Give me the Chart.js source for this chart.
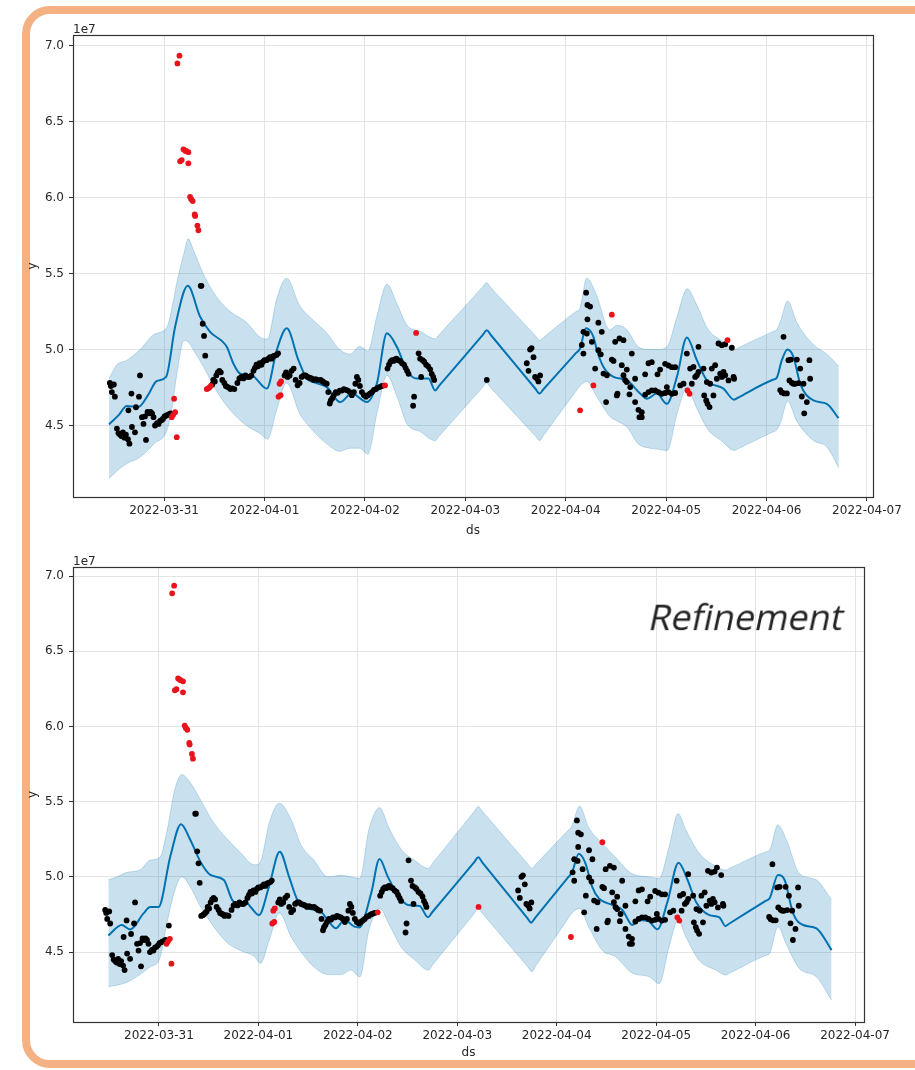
<!DOCTYPE html>
<html><head><meta charset="utf-8">
<script src="https://cdn.jsdelivr.net/npm/chart.js@4.4.1/dist/chart.umd.min.js"></script>
<style>
html,body{margin:0;padding:0;background:#fff;width:915px;height:1070px;overflow:hidden;position:relative}
#frame{position:absolute;left:22px;top:6px;width:960px;height:1062px;box-sizing:border-box;border:8px solid #F4B183;border-radius:28px}
canvas{position:absolute;left:0}
#c1{top:0}
#c2{top:545px}
#note{position:absolute;left:647px;top:599px;font:normal 36px/36px 'Open Sans';color:#222;white-space:nowrap;transform:skewX(-12deg);transform-origin:0 32px}
</style></head><body>
<div id="frame"></div>
<canvas id="c1" width="915" height="545"></canvas>
<canvas id="c2" width="915" height="525"></canvas>
<div id="note">Refinement</div>
<script>
// x values are days after 2022-03-31 00:00, y values in units of 1e7
const tickDays = [0,1,2,3,4,5,6,7];
const tickDates = ['2022-03-31','2022-04-01','2022-04-02','2022-04-03','2022-04-04','2022-04-05','2022-04-06','2022-04-07'];
const yTicks = [4.5,5.0,5.5,6.0,6.5,7.0];
const offsetLabel = '1e7';

// ---- top chart forecast ----
const topBandDays = [-0.548,-0.47,-0.37,-0.24,-0.1,0.03,0.08,0.13,0.2,0.24,0.29,0.39,0.52,0.66,0.82,0.96,1.03,1.12,1.22,1.35,1.49,1.62,1.75,1.85,1.95,2.03,2.12,2.22,2.32,2.42,2.55,2.7,2.74,3.17,3.21,3.25,3.70,3.74,3.78,4.10,4.14,4.21,4.3,4.44,4.51,4.61,4.72,4.84,4.91,5.01,5.11,5.21,5.3,5.42,5.55,5.68,5.72,6.06,6.1,6.14,6.21,6.3,6.47,6.6,6.72];
const topUpper = [4.81,4.90,4.93,5.00,5.10,5.15,5.28,5.45,5.64,5.73,5.66,5.50,5.35,5.25,5.18,5.08,5.07,5.33,5.47,5.29,5.19,5.11,5.00,4.97,5.02,4.99,5.22,5.43,5.30,5.16,5.12,5.07,5.099,5.411,5.44,5.411,5.089,5.06,5.081,5.249,5.27,5.47,5.37,5.13,5.16,5.13,5.02,5.00,5.00,5.02,5.22,5.40,5.30,5.13,5.06,5.00,5.012,5.118,5.13,5.19,5.32,5.18,5.03,4.97,4.89];
const topLower = [4.15,4.20,4.25,4.29,4.38,4.47,4.62,4.85,5.06,5.05,5.00,4.89,4.73,4.60,4.50,4.445,4.41,4.60,4.78,4.58,4.46,4.38,4.33,4.35,4.35,4.31,4.58,4.83,4.69,4.51,4.46,4.40,4.430,4.750,4.78,4.751,4.429,4.40,4.436,4.724,4.76,4.79,4.70,4.56,4.53,4.49,4.38,4.35,4.345,4.335,4.58,4.75,4.62,4.47,4.40,4.335,4.348,4.457,4.47,4.52,4.66,4.53,4.40,4.36,4.22];
const topFitDays = [-0.548,-0.45,-0.372,-0.256,-0.16,-0.073,0.02,0.11,0.236,0.359,0.458,0.624,0.69,0.757,0.873,1.023,1.122,1.222,1.338,1.421,1.487,1.62,1.753,1.869,2.019,2.119,2.219,2.318,2.417,2.517,2.633,2.7,2.74,3.174,3.214,3.254,3.698,3.738,3.778,4.103,4.143,4.2,4.276,4.31,4.376,4.476,4.608,4.741,4.808,4.907,5.007,5.107,5.206,5.306,5.405,5.571,5.677,5.717,6.062,6.102,6.152,6.208,6.268,6.335,6.467,6.6,6.716];
const topFit = [4.507,4.57,4.628,4.621,4.70,4.793,4.82,5.15,5.42,5.216,5.117,5.018,4.908,4.842,4.83,4.743,4.996,5.14,4.93,4.809,4.786,4.753,4.654,4.71,4.654,4.776,5.107,5.018,4.864,4.809,4.809,4.731,4.762,5.097,5.128,5.096,4.742,4.71,4.739,4.978,5.007,5.14,5.084,4.996,4.886,4.82,4.798,4.71,4.676,4.71,4.643,4.82,5.08,4.93,4.798,4.743,4.67,4.684,4.801,4.815,4.93,5.0,4.952,4.776,4.665,4.643,4.548];

// ---- bottom chart forecast (refinement) ----
const botBandDays = [-0.509,-0.42,-0.32,-0.19,-0.09,0.01,0.08,0.16,0.23,0.3,0.42,0.55,0.69,0.82,0.96,1.02,1.11,1.21,1.33,1.43,1.56,1.7,1.83,1.93,2.02,2.11,2.22,2.31,2.44,2.57,2.71,2.75,3.17,3.21,3.25,3.71,3.75,3.79,4.11,4.15,4.23,4.32,4.46,4.59,4.76,4.93,5.03,5.13,5.22,5.3,5.43,5.6,5.7,5.74,6.10,6.14,6.225,6.31,6.44,6.61,6.764];
const botUpper = [4.98,5.00,5.03,5.045,5.11,5.13,5.30,5.58,5.68,5.64,5.51,5.36,5.25,5.16,5.08,5.10,5.36,5.49,5.38,5.21,5.11,5.00,5.01,5.00,4.99,5.31,5.46,5.33,5.18,5.11,5.056,5.089,5.434,5.467,5.437,5.086,5.056,5.084,5.306,5.334,5.47,5.33,5.22,5.13,5.02,5.00,4.99,5.20,5.42,5.31,5.16,5.07,5.045,5.057,5.166,5.178,5.345,5.245,5.023,4.98,4.846];
const botLower = [4.27,4.28,4.30,4.35,4.40,4.46,4.69,4.91,5.00,4.95,4.80,4.67,4.56,4.51,4.47,4.425,4.58,4.76,4.60,4.50,4.40,4.35,4.35,4.38,4.335,4.64,4.79,4.69,4.53,4.45,4.38,4.413,4.757,4.79,4.759,4.401,4.37,4.409,4.718,4.757,4.79,4.67,4.51,4.47,4.36,4.336,4.29,4.535,4.71,4.60,4.447,4.38,4.347,4.36,4.477,4.49,4.669,4.55,4.39,4.336,4.18];
const botFitDays = [-0.509,-0.374,-0.29,-0.155,-0.088,-0.004,0.114,0.222,0.316,0.417,0.518,0.653,0.737,0.788,0.872,0.922,1.006,1.107,1.215,1.309,1.393,1.495,1.629,1.697,1.78,1.865,1.966,2.016,2.134,2.218,2.302,2.403,2.504,2.622,2.706,2.746,3.171,3.211,3.251,3.703,3.743,3.783,4.114,4.154,4.222,4.289,4.356,4.424,4.559,4.66,4.761,4.828,4.929,5.013,5.114,5.225,5.316,5.4,5.535,5.636,5.697,5.737,6.101,6.141,6.225,6.292,6.377,6.478,6.612,6.764];
const botFit = [4.61,4.68,4.65,4.757,4.8,4.8,5.134,5.35,5.245,5.101,5.013,4.979,4.846,4.824,4.835,4.80,4.746,4.935,5.167,5.0,4.846,4.79,4.768,4.713,4.658,4.713,4.669,4.664,4.89,5.118,5.0,4.879,4.813,4.806,4.731,4.763,5.098,5.13,5.097,4.728,4.695,4.728,4.997,5.029,5.153,5.09,4.935,4.857,4.813,4.78,4.68,4.713,4.702,4.651,4.835,5.094,4.979,4.835,4.746,4.731,4.673,4.690,4.84,4.857,5.013,4.979,4.757,4.68,4.658,4.513];

// ---- observations [day, value] ----
const obsCommon = [
[-0.54,4.78],[-0.53,4.76],[-0.52,4.72],[-0.50,4.77],[-0.49,4.69],[-0.47,4.48],[-0.455,4.45],[-0.44,4.44],[-0.425,4.43],[-0.41,4.455],[-0.395,4.42],[-0.38,4.44],[-0.36,4.41],[-0.345,4.38],[-0.355,4.60],[-0.325,4.71],[-0.32,4.49],[-0.29,4.455],[-0.28,4.62],[-0.25,4.69],[-0.24,4.83],[-0.22,4.555],[-0.205,4.51],[-0.19,4.56],[-0.18,4.405],[-0.165,4.59],[-0.15,4.58],[-0.135,4.59],[-0.12,4.58],[-0.105,4.555],[-0.09,4.50],[-0.07,4.515],[-0.055,4.51],[-0.04,4.53],[-0.025,4.535],[-0.01,4.545],[0.005,4.56],[0.02,4.565],[0.035,4.57],[0.05,4.575],[0.065,4.58],
[0.365,5.42],[0.372,5.42],[0.385,5.17],[0.398,5.09],[0.41,4.96],
[0.48,4.77],[0.49,4.80],[0.505,4.79],[0.52,4.83],[0.535,4.85],[0.55,4.86],[0.565,4.85],[0.58,4.80],[0.60,4.78],[0.615,4.76],[0.63,4.755],[0.645,4.75],[0.66,4.74],[0.68,4.745],[0.70,4.74],[0.73,4.78],[0.75,4.81],[0.77,4.82],[0.79,4.81],[0.81,4.83],[0.83,4.82],[0.85,4.82],[0.87,4.83],[0.89,4.86],[0.905,4.88],[0.92,4.90],[0.935,4.89],[0.95,4.91],[0.97,4.90],[0.985,4.92],[1.0,4.93],[1.02,4.93],[1.04,4.94],[1.055,4.95],[1.07,4.94],[1.085,4.955],[1.10,4.96],[1.12,4.965],[1.135,4.975],
[1.20,4.83],[1.215,4.85],[1.23,4.82],[1.25,4.83],[1.27,4.86],[1.29,4.875],[1.31,4.80],[1.33,4.765],[1.35,4.78],[1.37,4.82],[1.39,4.83],[1.41,4.83],[1.43,4.82],[1.45,4.815],[1.47,4.81],[1.49,4.80],[1.51,4.805],[1.53,4.80],[1.56,4.80],[1.58,4.79],[1.60,4.78],[1.62,4.775],[1.635,4.72],[1.65,4.645],[1.66,4.665],[1.675,4.68],[1.69,4.70],[1.71,4.72],[1.73,4.715],[1.75,4.73],[1.77,4.73],[1.79,4.74],[1.81,4.735],[1.83,4.73],[1.85,4.72],[1.87,4.70],[1.89,4.72],[1.905,4.775],[1.92,4.82],[1.935,4.80],[1.95,4.76],[1.97,4.72],[1.99,4.70],[2.01,4.69],[2.03,4.70],[2.05,4.71],[2.07,4.72],[2.09,4.735],[2.11,4.74],[2.13,4.75],[2.15,4.755],[2.17,4.76],
[2.225,4.875],[2.24,4.90],[2.255,4.92],[2.27,4.93],[2.285,4.925],[2.30,4.935],[2.315,4.94],[2.33,4.93],[2.35,4.925],[2.37,4.91],[2.39,4.90],[2.405,4.88],[2.42,4.86],[2.435,4.84],[2.49,4.69],[2.48,4.63],[2.535,4.975],[2.55,4.94],[2.56,4.82],[2.575,4.93],[2.59,4.92],[2.61,4.90],[2.63,4.89],[2.65,4.87],[2.665,4.84],[2.68,4.82],[2.69,4.80],
[3.612,4.91],[3.629,4.86],[3.645,5.0],[3.66,5.01],[3.679,4.95],[3.695,4.82],[3.712,4.81],[3.728,4.79],[3.745,4.83],
[4.16,5.03],[4.176,5.117],[4.176,4.974],[4.203,5.375],[4.216,5.294],[4.243,5.283],[4.216,5.199],[4.21,5.106],[4.26,5.051],[4.325,5.177],[4.359,5.117],[4.325,4.996],[4.349,4.969],[4.293,4.875],[4.376,4.842],[4.41,4.831],[4.402,4.654],[4.459,4.934],[4.476,4.925],[4.492,5.051],[4.509,4.698],[4.515,4.709],[4.535,5.073],[4.575,5.062],[4.558,4.897],[4.608,4.868],[4.575,4.831],[4.592,4.798],[4.608,4.786],[4.658,4.974],[4.642,4.753],[4.635,4.705],[4.691,4.808],[4.691,4.654],[4.724,4.603],[4.734,4.555],[4.757,4.555],[4.757,4.588],[4.791,4.703],[4.824,4.72],[4.857,4.731],[4.891,4.731],[4.924,4.72],[4.957,4.709],[4.99,4.714],[5.023,4.72],[5.057,4.709],[5.09,4.714],[4.824,4.91],[4.857,4.917],[4.791,4.837],[4.94,4.868],[4.914,4.837],[4.99,4.906],[5.023,4.895],[5.057,4.884],[5.09,4.884],[5.007,4.753],[5.14,4.764],[5.173,4.775],[5.206,4.974],[5.239,4.875],[5.272,4.886],[5.289,4.82],[5.306,4.831],[5.322,4.853],[5.322,5.018],[5.256,4.775],[5.372,4.875],[5.405,4.786],[5.438,4.775],[5.379,4.698],[5.399,4.665],[5.412,4.643],[5.432,4.621],[5.455,4.875],[5.488,4.897],[5.471,4.698],[5.505,4.808],[5.538,4.842],[5.571,4.853],[5.588,4.831],[5.555,4.82],[5.521,5.04],[5.555,5.029],[5.588,5.035],[5.621,4.797],[5.654,5.012],[5.671,4.82],[5.677,4.808],
[6.136,4.733],[6.152,4.718],[6.176,4.711],[6.202,4.711],[6.169,5.084],[6.218,4.93],[6.242,4.934],[6.302,4.934],[6.228,4.797],[6.252,4.781],[6.268,4.775],[6.285,4.775],[6.318,4.779],[6.335,4.875],[6.368,4.775],[6.351,4.691],[6.401,4.654],[6.427,4.93],[6.434,4.808],[6.375,4.58]
];
const outlierBoth = [
[0.133,6.885],[0.153,6.936],[0.16,6.24],[0.176,6.248],[0.193,6.319],[0.21,6.31],[0.219,6.308],[0.242,6.30],[0.242,6.227],[0.259,6.006],[0.27,5.99],[0.285,5.978],[0.305,5.89],[0.309,5.88],[0.332,5.817],[0.342,5.786],
[0.076,4.555],[0.09,4.57],[0.11,4.588],[0.126,4.423],[1.15,4.775],[1.165,4.79],[1.14,4.69],[1.16,4.70],[2.2,4.764],[4.143,4.60],[4.459,5.23],[5.213,4.731],[5.233,4.709]
];
const outlierTopOnly = [[0.10,4.676],[0.425,4.74],[0.44,4.745],[0.45,4.75],[0.465,4.76],[2.51,5.11],[4.276,4.764],[5.611,5.062]];
const outlierBottomOnly = [[3.214,4.80]];

const FONT = 'DejaVu Sans';
const TXT = '#262626';
const pts = (xs, ys) => xs.map((x, i) => ({x: x, y: ys[i]}));
const pairs = a => a.map(p => ({x: p[0], y: p[1]}));

const framePlugin = {
  id: 'axframe',
  afterDraw(chart) {
    const {ctx, chartArea: a} = chart;
    ctx.save();
    ctx.strokeStyle = '#333';
    ctx.lineWidth = 1.2;
    ctx.strokeRect(Math.round(a.left) + 0.5, Math.round(a.top) + 0.5, Math.round(a.right - a.left), Math.round(a.bottom - a.top));
    ctx.fillStyle = TXT;
    ctx.font = '12px "' + FONT + '"';
    ctx.textAlign = 'left';
    ctx.textBaseline = 'alphabetic';
    ctx.fillText(offsetLabel, a.left, a.top - 2);
    ctx.restore();
  }
};

function makeChart(id, o) {
  const blue = '#0072B2';
  const band = 'rgba(0,114,178,0.21)';
  return new Chart(document.getElementById(id), {
    type: 'line',
    data: {
      datasets: [
        {data: pts(o.bandDays, o.upper), fill: 1, backgroundColor: band, borderColor: 'rgba(0,114,178,0.22)', borderWidth: 1, pointRadius: 0, cubicInterpolationMode: 'monotone', order: 4},
        {data: pts(o.bandDays, o.lower), fill: false, borderColor: 'rgba(0,114,178,0.22)', borderWidth: 1, pointRadius: 0, cubicInterpolationMode: 'monotone', order: 4},
        {data: pts(o.fitDays, o.fit), fill: false, borderColor: blue, borderWidth: 2, pointRadius: 0, cubicInterpolationMode: 'monotone', order: 3},
        {data: pairs(o.black), showLine: false, pointRadius: 2.9, pointBackgroundColor: '#000', pointBorderWidth: 0, order: 2},
        {data: pairs(o.red), showLine: false, pointRadius: 2.9, pointBackgroundColor: '#e8141c', pointBorderWidth: 0, order: 1}
      ]
    },
    options: {
      responsive: false,
      animation: false,
      events: [],
      layout: {padding: o.padding},
      plugins: {legend: {display: false}, tooltip: {enabled: false}},
      scales: {
        x: {
          type: 'linear', min: o.xmin, max: o.xmax,
          afterBuildTicks: s => { s.ticks = tickDays.map(v => ({value: v})); },
          afterFit: s => { s.height = o.xAxisH; },
          ticks: {callback: v => tickDates[tickDays.indexOf(v)], font: {family: FONT, size: 12}, color: TXT, padding: 3, maxRotation: 0, autoSkip: false},
          grid: {color: '#e4e4e4', lineWidth: 1, tickColor: '#333', tickLength: 4, drawTicks: true},
          border: {display: false},
          title: {display: true, text: 'ds', font: {family: FONT, size: 12}, color: TXT, padding: {top: 0, bottom: o.dsPad}}
        },
        y: {
          type: 'linear', min: o.ymin, max: o.ymax,
          afterBuildTicks: s => { s.ticks = yTicks.map(v => ({value: v})); },
          afterFit: s => { s.width = 73; },
          ticks: {callback: v => v.toFixed(1), font: {family: FONT, size: 12}, color: TXT, padding: 5},
          grid: {color: '#e4e4e4', lineWidth: 1, tickColor: '#333', tickLength: 4, drawTicks: true},
          border: {display: false},
          title: {display: true, text: 'y', font: {family: FONT, size: 12}, color: TXT, padding: {top: 26, bottom: 0}}
        }
      }
    },
    plugins: [framePlugin]
  });
}

makeChart('c1', {
  bandDays: topBandDays, upper: topUpper, lower: topLower, fitDays: topFitDays, fit: topFit,
  black: obsCommon.concat(outlierBottomOnly), red: outlierBoth.concat(outlierTopOnly),
  xmin: -0.907, xmax: 7.06, ymin: 4.029, ymax: 7.072,
  padding: {left: 0, right: 42, top: 35, bottom: 0}, xAxisH: 48, dsPad: 7
});
makeChart('c2', {
  bandDays: botBandDays, upper: botUpper, lower: botLower, fitDays: botFitDays, fit: botFit,
  black: obsCommon.concat(outlierTopOnly), red: outlierBoth.concat(outlierBottomOnly),
  xmin: -0.864, xmax: 7.09, ymin: 4.035, ymax: 7.06,
  padding: {left: 0, right: 51, top: 22, bottom: 0}, xAxisH: 48, dsPad: 10
});
</script>
</body></html>
